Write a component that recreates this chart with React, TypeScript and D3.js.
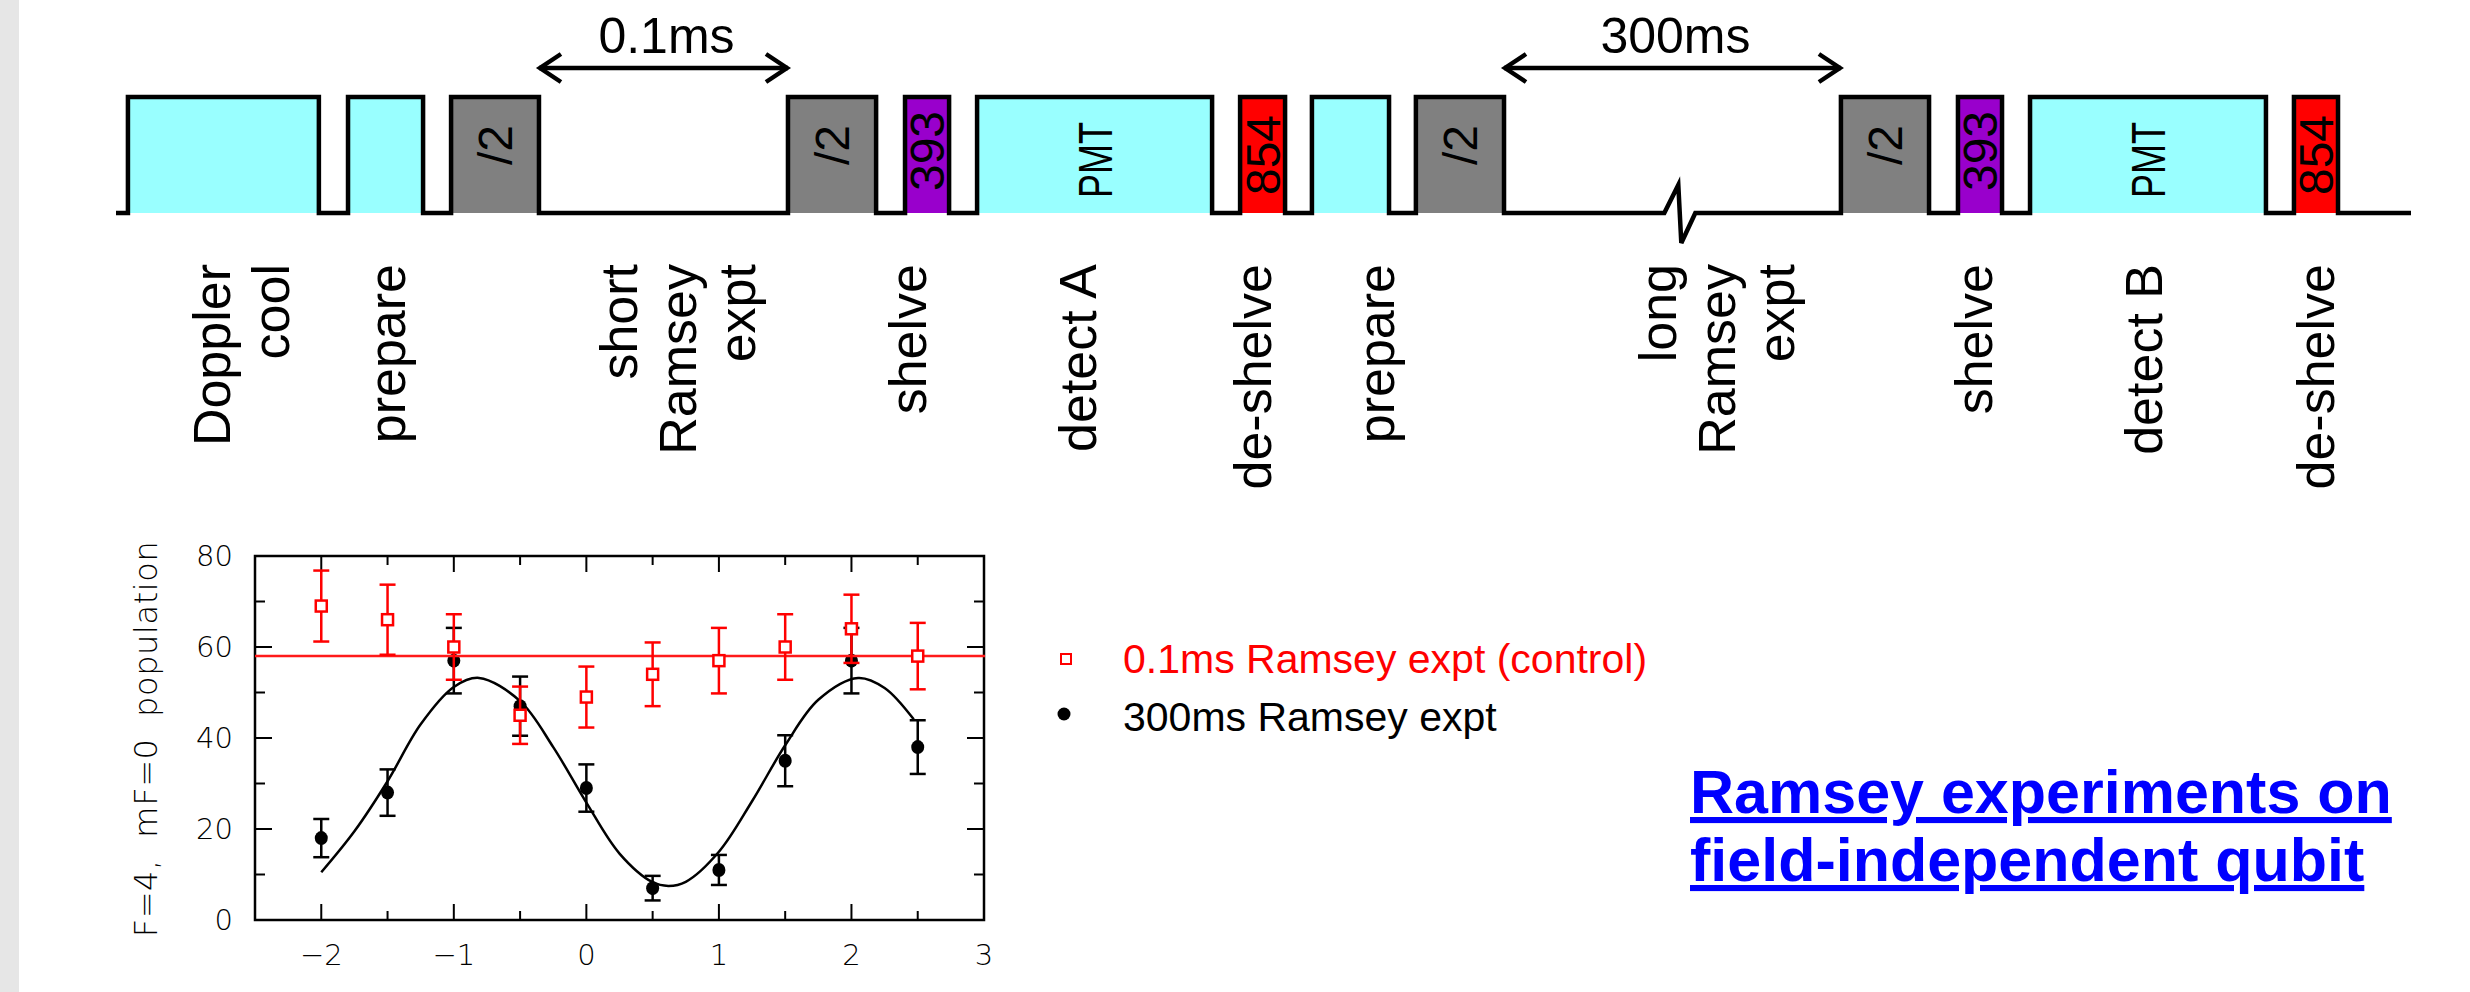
import React from "react";
import * as d3 from "d3";

// pulse sequence, time in arbitrary units across the diagram (0..100)
const pulseKinds = ["cool", "cool", "pi2", "pi2", "393", "pmt", "854", "cool", "pi2", "pi2", "393", "pmt", "854"];
const pulseStarts = [0.52, 10.11, 14.6, 29.28, 34.38, 37.52, 48.98, 52.11, 56.64, 75.16, 80.26, 83.4, 94.9];
const pulseEnds = [8.84, 13.38, 18.43, 33.12, 36.3, 47.76, 50.94, 55.47, 60.48, 79.0, 82.18, 93.68, 96.82];
const pulseTexts = ["", "", "/2", "/2", "393", "PMT", "854", "", "/2", "/2", "393", "PMT", "854"];
const sequenceEnd = 100;
const breakAt = 67.9;

// step names written under the sequence
const stepNames = [
  ["Doppler", "cool"], ["prepare"], ["short", "Ramsey", "expt"], ["shelve"], ["detect A"], ["de-shelve"],
  ["prepare"], ["long", "Ramsey", "expt"], ["shelve"], ["detect B"], ["de-shelve"],
];
const stepTimes = [5.45, 11.76, 24.44, 34.47, 41.87, 49.5, 54.86, 69.72, 80.92, 88.32, 95.82];

// free-precession spans
const spanLabels = ["0.1ms", "300ms"];
const spanFrom = [18.43, 60.48];
const spanTo = [29.28, 75.16];

// Ramsey data
const phases = [-2, -1.5, -1, -0.5, 0, 0.5, 1, 1.5, 2, 2.5];
const controlValues = [69, 66, 60, 45, 49, 54, 57, 60, 64, 58];
const controlErrors = [7.8, 7.7, 7.2, 6.3, 6.7, 7, 7.2, 7.2, 7.5, 7.3];
const longValues = [18, 28, 57, 47, 29, 7, 11, 35, 57, 38];
const longErrors = [4.2, 5.1, 7.2, 6.5, 5.2, 2.7, 3.3, 5.6, 7.2, 5.9];
const controlLevel = 58;
const fitX = [-2, -1.75, -1.5, -1.25, -1, -0.81, -0.5, -0.25, 0, 0.25, 0.5, 0.62, 0.75, 1, 1.25, 1.5, 1.75, 2.05, 2.25, 2.47];
const fitY = [10.5, 19.5, 30.5, 43.0, 51.2, 53.2, 48.1, 38.0, 25.8, 14.6, 8.3, 7.5, 8.4, 15.0, 26.1, 38.4, 48.4, 53.2, 51.0, 44.1];

const xMajor = [-2, -1, 0, 1, 2, 3];
const xMinor = [-1.5, -0.5, 0.5, 1.5, 2.5];
const yMajor = [0, 20, 40, 60, 80];
const yMinor = [10, 30, 50, 70];

const legendLabels = ["0.1ms Ramsey expt (control)", "300ms Ramsey expt"];
const titleLines = ["Ramsey experiments on", "field-independent qubit"];

const pulseFill: Record<string, string> = { cool: "#99ffff", pmt: "#99ffff", pi2: "#808080", "393": "#9900cc", "854": "#ff0000" };
const pulseTextY: Record<string, number> = { pi2: 145, "393": 151, "854": 155, pmt: 160 };

const SANS = "'Liberation Sans', Arial, sans-serif";
const PLOTFONT = "'DejaVu Sans', sans-serif";

export default function App() {
  const tx = d3.scaleLinear().domain([0, sequenceEnd]).range([116, 2411]);
  const hiY = 97;
  const loY = 213;

  // waveform outline
  const pts: [number, number][] = [[tx(0), loY]];
  pulseStarts.forEach((s, i) => {
    const prevEnd = i === 0 ? 0 : pulseEnds[i - 1];
    if (breakAt > prevEnd && breakAt < s) {
      const bx = tx(breakAt);
      pts.push([bx - 10, loY], [bx + 4, loY - 28], [bx + 7, loY + 30], [bx + 21, loY]);
    }
    pts.push([tx(s), loY], [tx(s), hiY], [tx(pulseEnds[i]), hiY], [tx(pulseEnds[i]), loY]);
  });
  pts.push([tx(sequenceEnd), loY]);
  const wave = d3.line()(pts) ?? "";

  // plot scales
  const px = d3.scaleLinear().domain([-2.5, 3]).range([255, 984]);
  const py = d3.scaleLinear().domain([0, 80]).range([920, 556]);
  const fitLine = d3
    .line<number>()
    .x((d) => px(d))
    .y((_, i) => py(fitY[i]))
    .curve(d3.curveCatmullRom.alpha(0.5));

  const [x0, x1] = px.range();
  const [y0, y1] = py.range();
  const cap = 8;

  return (
    <svg width={2470} height={992} style={{ position: "absolute", left: 0, top: 0, background: "#fff" }}>
      <rect x={0} y={0} width={19} height={992} fill="#e6e6e6" />

      {/* pulses */}
      {pulseKinds.map((k, i) => (
        <rect key={"p" + i} x={tx(pulseStarts[i])} y={hiY} width={tx(pulseEnds[i]) - tx(pulseStarts[i])} height={loY - hiY} fill={pulseFill[k]} />
      ))}
      <path d={wave} fill="none" stroke="#000" strokeWidth={4.5} strokeLinejoin="miter" />
      {pulseTexts.map((t, i) => {
        if (!t) return null;
        const k = pulseKinds[i];
        const cx = (tx(pulseStarts[i]) + tx(pulseEnds[i])) / 2;
        return (
          <text key={"pt" + i} transform={`translate(${cx},${pulseTextY[k]}) rotate(-90)`} textAnchor="middle" dy="0.36em"
            fontFamily={SANS} fontSize={48} fill="#000"
            textLength={k === "pmt" ? 76 : undefined} lengthAdjust="spacingAndGlyphs">
            {t}
          </text>
        );
      })}

      {/* spans */}
      {spanLabels.map((lab, i) => {
        const a = tx(spanFrom[i]);
        const b = tx(spanTo[i]);
        const y = 68;
        return (
          <g key={"s" + i} stroke="#000" strokeWidth={4.5} fill="none">
            <line x1={a} y1={y} x2={b} y2={y} />
            <polyline points={`${a + 22},${y - 14} ${a + 1},${y} ${a + 22},${y + 14}`} strokeLinejoin="miter" />
            <polyline points={`${b - 22},${y - 14} ${b - 1},${y} ${b - 22},${y + 14}`} strokeLinejoin="miter" />
            <text x={(a + b) / 2 + 3} y={53} textAnchor="middle" stroke="none" fill="#000" fontFamily={SANS} fontSize={50}>
              {lab}
            </text>
          </g>
        );
      })}

      {/* step names */}
      {stepNames.map((lines, i) => {
        const cx = tx(stepTimes[i]);
        const n = lines.length;
        return lines.map((ln, j) => (
          <text key={"n" + i + j} transform={`translate(${cx + (j - (n - 1) / 2) * 59},264) rotate(-90)`} textAnchor="end" dy="0.36em"
            fontFamily={SANS} fontSize={52} fill="#000">
            {ln}
          </text>
        ));
      })}

      {/* plot */}
      <g fontFamily={PLOTFONT} fontWeight={200}>
        {xMajor.map((v) => (
          <g key={"xM" + v} stroke="#000" strokeWidth={2}>
            <line x1={px(v)} x2={px(v)} y1={y0} y2={y0 - 16} />
            <line x1={px(v)} x2={px(v)} y1={y1} y2={y1 + 16} />
          </g>
        ))}
        {xMinor.map((v) => (
          <g key={"xm" + v} stroke="#000" strokeWidth={2}>
            <line x1={px(v)} x2={px(v)} y1={y0} y2={y0 - 9} />
            <line x1={px(v)} x2={px(v)} y1={y1} y2={y1 + 9} />
          </g>
        ))}
        {yMajor.map((v) => (
          <g key={"yM" + v} stroke="#000" strokeWidth={2}>
            <line x1={x0} x2={x0 + 17} y1={py(v)} y2={py(v)} />
            <line x1={x1} x2={x1 - 17} y1={py(v)} y2={py(v)} />
          </g>
        ))}
        {yMinor.map((v) => (
          <g key={"ym" + v} stroke="#000" strokeWidth={2}>
            <line x1={x0} x2={x0 + 10} y1={py(v)} y2={py(v)} />
            <line x1={x1} x2={x1 - 10} y1={py(v)} y2={py(v)} />
          </g>
        ))}
        <rect x={x0} y={y1} width={x1 - x0} height={y0 - y1} fill="none" stroke="#000" strokeWidth={2.5} />
        {xMajor.map((v) => (
          <text key={"xl" + v} x={px(v)} y={965} textAnchor="middle" fontSize={29} fill="#000">
            {v < 0 ? "\u2212" + Math.abs(v) : String(v)}
          </text>
        ))}
        {yMajor.map((v) => (
          <text key={"yl" + v} x={233} y={py(v) + 10} textAnchor="end" fontSize={29} fill="#000">
            {v}
          </text>
        ))}
        <text transform={`translate(145,739) rotate(-90)`} textAnchor="middle" dy="0.36em" fontSize={32} fill="#000"
          letterSpacing={0.6} style={{ whiteSpace: "pre" }}>
          {"F=4,  mF=0  population"}
        </text>

        {/* 300ms series */}
        <path d={fitLine(fitX) ?? ""} fill="none" stroke="#000" strokeWidth={2.5} />
        {phases.map((p, i) => (
          <g key={"b" + i} stroke="#000" strokeWidth={2.5}>
            <line x1={px(p)} x2={px(p)} y1={py(longValues[i] - longErrors[i])} y2={py(longValues[i] + longErrors[i])} />
            <line x1={px(p) - cap} x2={px(p) + cap} y1={py(longValues[i] - longErrors[i])} y2={py(longValues[i] - longErrors[i])} />
            <line x1={px(p) - cap} x2={px(p) + cap} y1={py(longValues[i] + longErrors[i])} y2={py(longValues[i] + longErrors[i])} />
            <ellipse cx={px(p)} cy={py(longValues[i])} rx={6.5} ry={7} fill="#000" stroke="none" />
          </g>
        ))}

        {/* control series */}
        <line x1={x0} x2={x1 + 1} y1={py(controlLevel)} y2={py(controlLevel)} stroke="#ff1a1a" strokeWidth={2.5} />
        {phases.map((p, i) => (
          <g key={"r" + i} stroke="#ff0000" strokeWidth={2.5}>
            <line x1={px(p)} x2={px(p)} y1={py(controlValues[i] - controlErrors[i])} y2={py(controlValues[i] + controlErrors[i])} />
            <line x1={px(p) - cap} x2={px(p) + cap} y1={py(controlValues[i] - controlErrors[i])} y2={py(controlValues[i] - controlErrors[i])} />
            <line x1={px(p) - cap} x2={px(p) + cap} y1={py(controlValues[i] + controlErrors[i])} y2={py(controlValues[i] + controlErrors[i])} />
            <rect x={px(p) - 5.5} y={py(controlValues[i]) - 5.5} width={11} height={11} fill="#fff" />
          </g>
        ))}
      </g>

      {/* legend */}
      <rect x={1061} y={654} width={10} height={10} fill="#fff" stroke="#ff0000" strokeWidth={2} />
      <text x={1123} y={673} fontFamily={SANS} fontSize={41} fill="#ff0000">{legendLabels[0]}</text>
      <circle cx={1064} cy={714} r={6.5} fill="#000" />
      <text x={1123} y={731} fontFamily={SANS} fontSize={41} fill="#000">{legendLabels[1]}</text>

      {/* title */}
      {titleLines.map((t, i) => (
        <text key={"t" + i} x={1690} y={813 + i * 68} fontFamily={SANS} fontWeight="bold" fontSize={61} fill="#0000ff" textDecoration="underline">
          {t}
        </text>
      ))}
    </svg>
  );
}
